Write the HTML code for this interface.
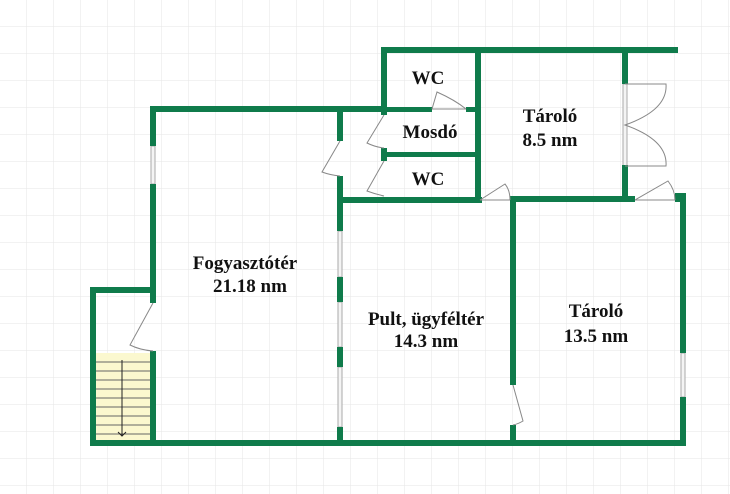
<!DOCTYPE html>
<html><head><meta charset="utf-8"><style>
html,body{margin:0;padding:0;background:#fff;}
svg{display:block;}
text{font-family:"Liberation Serif",serif;font-weight:bold;font-size:19px;fill:#111;text-anchor:middle;}
</style></head><body>
<svg width="730" height="494" viewBox="0 0 730 494" xmlns="http://www.w3.org/2000/svg">
<defs>
<pattern id="g" x="26" y="26" width="27" height="27" patternUnits="userSpaceOnUse">
<path d="M0 0H27M0 0V27" stroke="#e6e6e6" stroke-width="1" fill="none"/>
</pattern>
</defs>
<rect width="730" height="494" fill="url(#g)"/>
<rect x="96" y="353" width="54" height="88" fill="#fbf8cf"/>
<g stroke="#666" stroke-width="1">
<line x1="96" y1="362" x2="150" y2="362"/><line x1="96" y1="371" x2="150" y2="371"/>
<line x1="96" y1="380" x2="150" y2="380"/><line x1="96" y1="389" x2="150" y2="389"/>
<line x1="96" y1="398" x2="150" y2="398"/><line x1="96" y1="407" x2="150" y2="407"/>
<line x1="96" y1="416" x2="150" y2="416"/><line x1="96" y1="425" x2="150" y2="425"/>
<line x1="96" y1="434" x2="150" y2="434"/>
<line x1="122" y1="360" x2="122" y2="436" stroke="#222"/>
<path d="M118 432 L122 436 L126 432" fill="none" stroke="#222"/>
</g>
<g fill="#f4f4f4" stroke="#aaa" stroke-width="1">
<rect x="151" y="146" width="4" height="38"/>
<rect x="338" y="231" width="4" height="46"/>
<rect x="338" y="302" width="4" height="45"/>
<rect x="338" y="367" width="4" height="60"/>
<rect x="681" y="353" width="4" height="44"/>
<rect x="623" y="84" width="4" height="82"/>
</g>
<g fill="#0f7b4b">
<rect x="150" y="106" width="237" height="6"/>
<rect x="150" y="106" width="6" height="40"/>
<rect x="150" y="184" width="6" height="119"/>
<rect x="150" y="351" width="6" height="95"/>
<rect x="90" y="287" width="66" height="6"/>
<rect x="90" y="287" width="6" height="159"/>
<rect x="90" y="440" width="596" height="6"/>
<rect x="337" y="106" width="6" height="35"/>
<rect x="337" y="176" width="6" height="55"/>
<rect x="337" y="277" width="6" height="25"/>
<rect x="337" y="347" width="6" height="20"/>
<rect x="337" y="427" width="6" height="19"/>
<rect x="337" y="197" width="145" height="6"/>
<rect x="381" y="47" width="6" height="68"/>
<rect x="381" y="148" width="6" height="13"/>
<rect x="381" y="47" width="297" height="6"/>
<rect x="475" y="47" width="6" height="156"/>
<rect x="381" y="107" width="51" height="5"/>
<rect x="466" y="107" width="12" height="5"/>
<rect x="381" y="152" width="97" height="5"/>
<rect x="510" y="196" width="125" height="6"/>
<rect x="622" y="47" width="6" height="37"/>
<rect x="622" y="165" width="6" height="37"/>
<rect x="675" y="193" width="8" height="9"/>
<rect x="680" y="193" width="6" height="160"/>
<rect x="680" y="397" width="6" height="49"/>
<rect x="510" y="196" width="6" height="189"/>
<rect x="510" y="425" width="6" height="21"/>
</g>
<g fill="none" stroke="#888" stroke-width="1">
<path d="M340 141 L322 172 Q330 175 340 176"/>
<path d="M384 115 L367 143 Q375 147 384 148"/>
<path d="M384 161 L367 191 Q375 194 384 196"/>
<path d="M153 303 L130 345 Q140 350 153 351"/>
<path d="M432 109 L437 92 Q455 100 466 109"/>
<path d="M480 200 L505 184 Q510 190 510 200"/>
<path d="M635 200 L668 181 Q675 190 675 200"/>
<path d="M513 385 L523 421 Q518 424 513 425"/>
<path d="M625 84 H666 Q668 110 625 125 Q668 140 666 166 H625"/>
<line x1="432" y1="109" x2="466" y2="109"/>
<line x1="480" y1="200" x2="510" y2="200"/>
<line x1="635" y1="200" x2="675" y2="200"/>
</g>
<text x="428" y="84">WC</text>
<text x="430" y="138">Mosdó</text>
<text x="428" y="185">WC</text>
<text x="550" y="122">Tároló</text>
<text x="550" y="146">8.5 nm</text>
<text x="245" y="269">Fogyasztótér</text>
<text x="250" y="292">21.18 nm</text>
<text x="426" y="325">Pult, ügyféltér</text>
<text x="426" y="347">14.3 nm</text>
<text x="596" y="317">Tároló</text>
<text x="596" y="342">13.5 nm</text>
</svg>
</body></html>
